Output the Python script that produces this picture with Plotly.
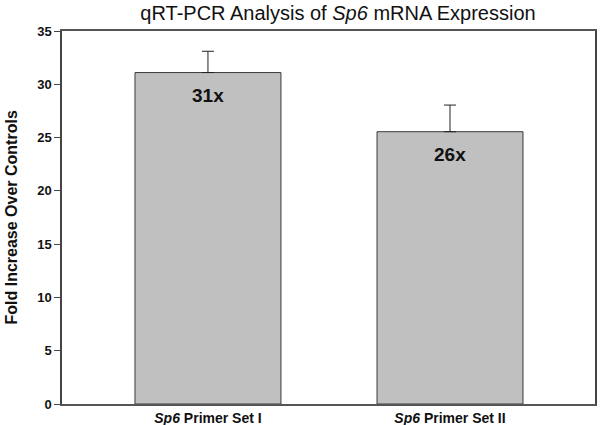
import plotly.graph_objects as go

categories = ["<i>Sp6</i> Primer Set I", "<i>Sp6</i> Primer Set II"]
values = [31.1, 25.55]
errors_up = [2.0, 2.5]
labels = ["31x", "26x"]
y_ticks = [0, 5, 10, 15, 20, 25, 30, 35]

FONT = "Arial, Liberation Sans, sans-serif"

fig = go.Figure()
fig.add_trace(go.Bar(
    x=[0, 1], y=values, width=0.603,
    marker=dict(color="#c0c0c0", line=dict(color="#3a3a3a", width=1)),
    error_y=dict(type="data", symmetric=False, array=errors_up,
                 arrayminus=[0, 0], color="#222222", thickness=1, width=6),
    showlegend=False,
))
for i, (v, t) in enumerate(zip(values, labels)):
    fig.add_annotation(x=i, y=v, text="<b>" + t + "</b>", showarrow=False,
                       yanchor="top", yshift=-10,
                       font=dict(family=FONT, size=19, color="#111111"))

# y-axis title
fig.add_annotation(xref="paper", yref="paper", x=(11 - 62) / 533, y=0.5,
                   text="<b>Fold Increase Over Controls</b>", showarrow=False,
                   textangle=-90, xanchor="center", yanchor="middle",
                   font=dict(family=FONT, size=16, color="#111111"))

fig.update_layout(
    width=600, height=425,
    margin=dict(l=62, r=5, t=31, b=21),
    paper_bgcolor="white", plot_bgcolor="white",
    title=dict(text="qRT-PCR Analysis of <i>Sp6</i> mRNA Expression",
               x=338 / 600, xanchor="center", y=1 - 13 / 425, yanchor="middle",
               font=dict(family=FONT, size=20, color="#111111")),
    font=dict(family=FONT, color="#111111"),
)
fig.update_xaxes(
    range=[-0.603, 1.599], tickvals=[0, 1], ticktext=["<b>" + c + "</b>" for c in categories],
    tickfont=dict(size=14), showline=True, linecolor="#555555", linewidth=1.5,
    mirror=True, ticks="", showgrid=False, zeroline=False, automargin=False,
)
fig.update_yaxes(
    range=[0, 35], tickvals=y_ticks, ticktext=["<b>%d</b>" % t for t in y_ticks],
    tickfont=dict(size=13), ticks="outside", ticklen=6, tickcolor="#444444",
    showline=True, linecolor="#444444", linewidth=1.5, mirror=True,
    showgrid=False, zeroline=False, automargin=False,
)
fig.write_html("out.html", config={"displayModeBar": False},
               post_script="document.body.style.margin='0';document.body.style.padding='0';")
